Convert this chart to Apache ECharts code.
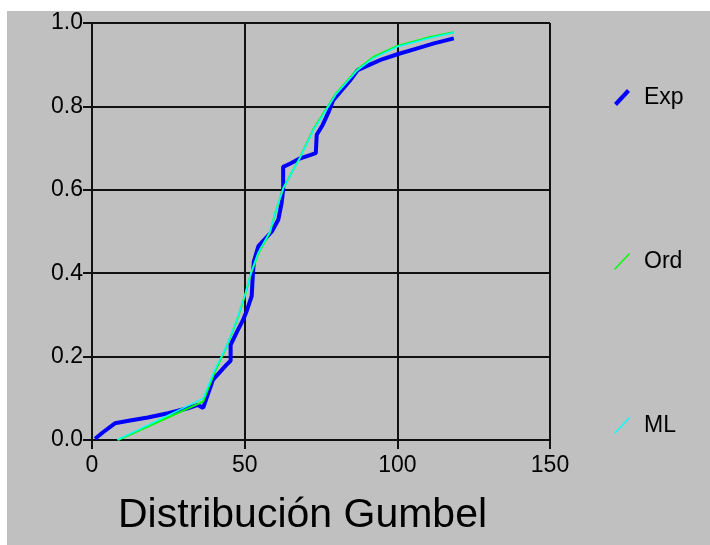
<!DOCTYPE html>
<html>
<head>
<meta charset="utf-8">
<script src="https://cdn.jsdelivr.net/npm/echarts@6/dist/echarts.min.js"></script>
<style>
html,body{margin:0;padding:0;background:#fff;}
#c{width:710px;height:545px;}
</style>
</head>
<body>
<div id="c"></div>
<script>
// ---- data ----
var xTicks = [0, 50, 100, 150];
var yTicks = ['0.0', '0.2', '0.4', '0.6', '0.8', '1.0'];
var seriesNames = ['Exp', 'Ord', 'ML'];
var titleText = 'Distribución Gumbel';

var expX = [1, 3.5, 7.5, 12, 18.3, 24.9, 31.4, 34.7, 36.4, 39.6, 44, 45.4, 45.4, 47.5, 49.6, 50.7, 52.3, 52.7, 53, 54.5, 58.9, 61, 62.1, 62.6, 62.6, 65, 68, 73.3, 73.6, 75.5, 77.4, 79, 84.5, 87, 91, 95, 100, 106, 112, 118.5];
var expY = [0.003, 0.018, 0.04, 0.046, 0.054, 0.064, 0.076, 0.084, 0.077, 0.144, 0.18, 0.19, 0.228, 0.26, 0.29, 0.31, 0.345, 0.4, 0.428, 0.465, 0.5, 0.528, 0.568, 0.6, 0.655, 0.663, 0.675, 0.688, 0.732, 0.755, 0.785, 0.815, 0.862, 0.887, 0.9, 0.913, 0.925, 0.938, 0.951, 0.963];

var ordX = [8.5, 36.4, 40, 44, 47.4, 50, 52, 54.5, 58.3, 60, 62.7, 68, 72.5, 77, 80, 86.7, 92, 100, 110, 118.5];
var ordY = [0, 0.092, 0.16, 0.222, 0.286, 0.344, 0.398, 0.448, 0.498, 0.544, 0.605, 0.676, 0.745, 0.797, 0.832, 0.887, 0.918, 0.945, 0.965, 0.978];

var mlX = [8.3, 36.4, 40, 44, 47.4, 50, 52, 54.5, 58.3, 60, 62.7, 68, 72.5, 77, 80, 86.7, 92, 100, 110, 118.5];
var mlY = [0, 0.1, 0.165, 0.224, 0.288, 0.345, 0.4, 0.45, 0.5, 0.545, 0.605, 0.675, 0.743, 0.795, 0.83, 0.885, 0.915, 0.943, 0.963, 0.977];

function pairs(xs, ys) { return xs.map(function (x, i) { return [x, ys[i]]; }); }

var chart = echarts.init(document.getElementById('c'), null, {renderer: 'canvas'});
var font = 'Liberation Sans, Arial, sans-serif';
var axisCol = '#111';

chart.setOption({
  animation: false,
  backgroundColor: '#ffffff',
  graphic: [
    {type: 'rect', z: -10, silent: true, shape: {x: 7, y: 11, width: 703, height: 534}, style: {fill: '#c0c0c0'}},
    {type: 'text', z: 10, style: {text: titleText, x: 302.5, y: 516, textAlign: 'center', textVerticalAlign: 'middle', font: '41px ' + font, fill: '#000'}}
  ],
  grid: {left: 92, right: 160, top: 23, bottom: 105, containLabel: false},
  legend: {
    orient: 'vertical',
    left: 609,
    top: 81,
    itemGap: 141,
    itemWidth: 18,
    itemHeight: 17,
    textStyle: {fontFamily: font, fontSize: 23, color: '#000', padding: [0, 0, 0, 8]},
    data: [
      {name: 'Exp', icon: 'path://M0,14 L13,0 L16,3 L3,17 Z'},
      {name: 'Ord', icon: 'path://M0,16 L15,0 L16,1 L1,17 Z'},
      {name: 'ML', icon: 'path://M0,16 L15,0 L16,1 L1,17 Z'}
    ]
  },
  xAxis: {
    type: 'value', min: xTicks[0], max: xTicks[xTicks.length - 1], interval: 50,
    axisLine: {show: true, onZero: false, lineStyle: {color: axisCol, width: 2}},
    axisTick: {show: true, inside: false, length: 9, lineStyle: {color: axisCol, width: 2}},
    axisLabel: {fontFamily: font, fontSize: 23, color: '#000', margin: 14},
    splitLine: {show: true, lineStyle: {color: axisCol, width: 2}}
  },
  yAxis: {
    type: 'value', min: 0, max: 1, interval: 0.2,
    axisLine: {show: true, onZero: false, lineStyle: {color: axisCol, width: 2}},
    axisTick: {show: true, inside: false, length: 9, lineStyle: {color: axisCol, width: 2}},
    axisLabel: {fontFamily: font, fontSize: 23, color: '#000', margin: 9,
      formatter: function (v) { return yTicks[Math.round(v / 0.2)]; }},
    splitLine: {show: true, lineStyle: {color: axisCol, width: 2}}
  },
  series: [
    {name: seriesNames[0], type: 'line', data: pairs(expX, expY), showSymbol: false, symbol: 'none', color: '#0000ff', lineStyle: {width: 4, color: '#0000ff'}, z: 3},
    {name: seriesNames[1], type: 'line', data: pairs(ordX, ordY), showSymbol: false, symbol: 'none', color: '#00ff00', lineStyle: {width: 2, color: '#00ff00'}, z: 4},
    {name: seriesNames[2], type: 'line', data: pairs(mlX, mlY), showSymbol: false, symbol: 'none', color: '#00ffff', lineStyle: {width: 1.5, color: '#00ffff'}, z: 5}
  ]
});
</script>
</body>
</html>
